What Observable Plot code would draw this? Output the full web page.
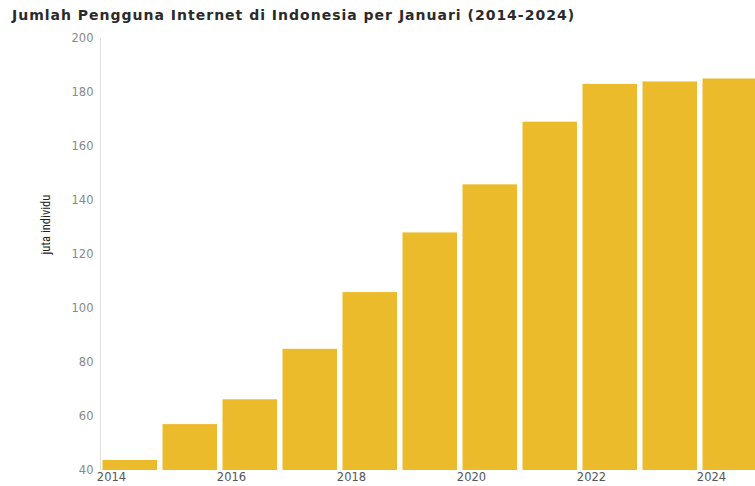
<!DOCTYPE html>
<html>
<head>
<meta charset="utf-8">
<script src="https://cdn.jsdelivr.net/npm/d3@7"></script>
<script src="https://cdn.jsdelivr.net/npm/@observablehq/plot@0.6"></script>
<style>
  html, body { margin: 0; padding: 0; background: #fff; overflow: hidden; width: 755px; height: 486px; }
  #title { height: 30px; box-sizing: border-box; padding: 7px 0 0 12px; font-family: "DejaVu Sans", sans-serif; font-weight: 700; font-size: 14px; letter-spacing: 1px; line-height: 17px; color: #2a2a2a; white-space: nowrap; }
  #chart svg { display: block; overflow: hidden; }
</style>
</head>
<body>
<div id="title">Jumlah Pengguna Internet di Indonesia per Januari (2014-2024)</div>
<div id="chart"></div>
<script>
const years = [2014, 2015, 2016, 2017, 2018, 2019, 2020, 2021, 2022, 2023, 2024];
const users = [43.7, 57, 66.2, 84.9, 105.9, 128, 145.8, 169, 183, 183.9, 185];
const yTicks = [40, 60, 80, 100, 120, 140, 160, 180, 200];
const xTicks = [2014, 2016, 2018, 2020, 2022, 2024];
const yLabel = "juta individu";

const data = years.map((y, i) => ({year: y, value: users[i]}));

const plot = Plot.plot({
  width: 755,
  height: 456,
  marginTop: 8,
  marginBottom: 16,
  marginLeft: 100,
  marginRight: 0,
  style: {fontFamily: "DejaVu Sans, sans-serif", fontSize: "11.5px", color: "#666", background: "#fff"},
  x: {domain: [2014, 2025], range: [100, 760]},
  y: {domain: [40, 200]},
  marks: [
    Plot.gridY(yTicks, {stroke: "#e6e6e6", strokeOpacity: 1, x1: 100, x2: 755}),
    Plot.ruleX([2014], {stroke: "#e0e0e0"}),
    Plot.rectY(data, {x1: "year", x2: d => d.year + 1, y1: 40, y2: "value", fill: "#ecbb2b", insetLeft: 2.5, insetRight: 3}),
    Plot.axisY(yTicks, {tickSize: 0, tickPadding: 7, fill: "#888", label: null}),
    Plot.axisX(xTicks, {tickSize: 0, tickPadding: 2, dx: 11, tickFormat: d => String(d), fill: "#555", label: null}),
    Plot.text([yLabel], {frameAnchor: "left", dx: -55, rotate: -90, fontSize: 12.5, fill: "#222", fontFamily: "Liberation Sans Narrow, Roboto Condensed, sans-serif", fontStretch: "condensed"})
  ]
});
document.getElementById("chart").appendChild(plot);
</script>
</body>
</html>
